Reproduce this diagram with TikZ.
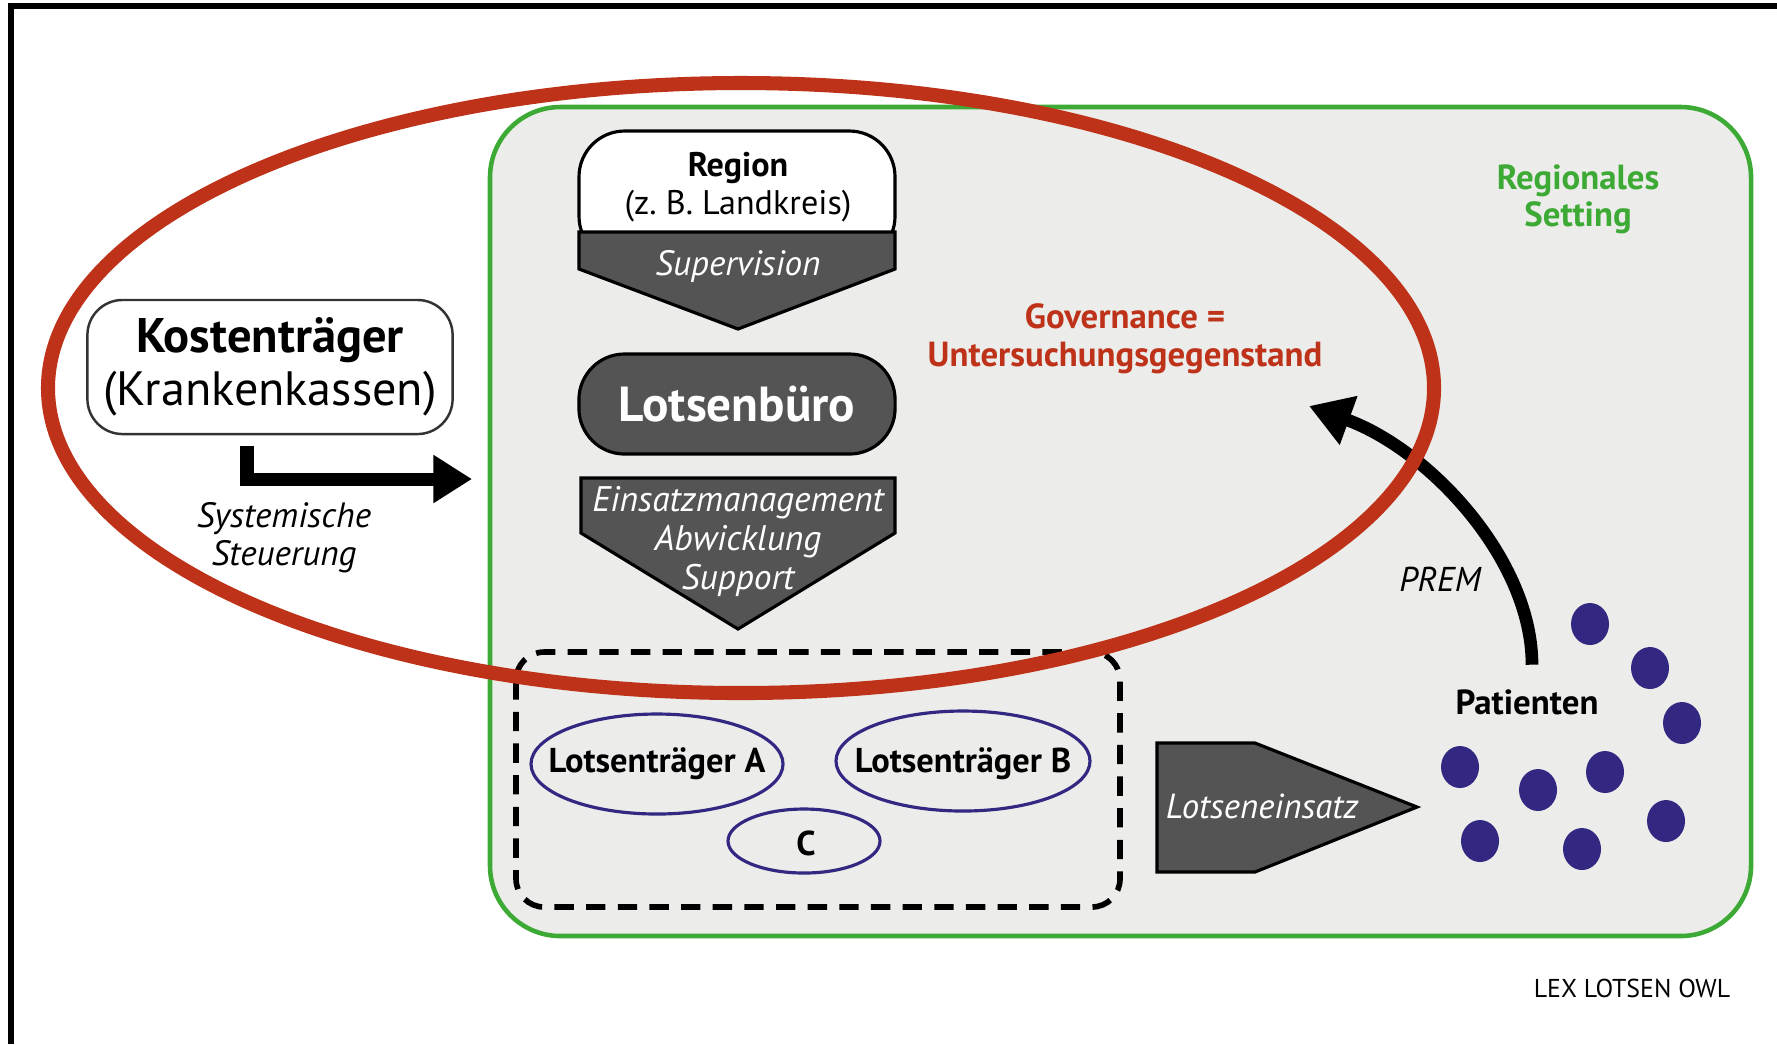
\documentclass[tikz,border=0pt]{standalone}
\usepackage{fontspec}
\setmainfont{PT Sans}
\usetikzlibrary{arrows.meta,calc}
\definecolor{govred}{RGB}{190,50,25}
\definecolor{setgreen}{RGB}{61,170,53}
\definecolor{darkfill}{RGB}{84,84,84}
\definecolor{settingbg}{RGB}{236,236,234}
\definecolor{patblue}{RGB}{50,40,130}
\begin{document}
\begin{tikzpicture}[x=0.01cm,y=-0.01cm,
    lbl/.style={inner sep=0pt,align=center,font=\fontsize{9.9}{11}\selectfont},
    darkpart/.style={fill=darkfill,draw=black,line width=0.9pt},
    ring/.style={draw=patblue,line width=0.9pt}]
  \useasboundingbox (0,0) rectangle (1777,1044);
  \draw[line width=1.5pt] (11,1044) -- (11,6) -- (1777,6);
  % regionales Setting
  \draw[setgreen,fill=settingbg,line width=1.3pt,rounded corners=20pt]
    (490,107) rectangle (1751,936);
  \node[lbl,text=setgreen,font=\bfseries\fontsize{9.9}{10.5}\selectfont] (setting)
    at (1578,199) {Regionales\\Setting};
  % Region mit Supervision
  \draw[fill=white,line width=0.9pt,rounded corners=13pt] (579,131) rectangle (895,262);
  \draw[darkpart] (579,232) -- (895,232) -- (895,269) -- (738,329) -- (579,269) -- cycle;
  \node[lbl,font=\fontsize{9.7}{11}\selectfont] (region) at (738,187)
    {\textbf{Region}\\(z.~B. Landkreis)};
  \node[lbl,text=white,font=\itshape\fontsize{10}{11}\selectfont] (superv) at (738,266) {Supervision};
  % Lotsenbuero
  \node[darkpart,rounded corners=13pt,minimum width=3.16cm,minimum height=1cm,
    text=white,font=\bfseries\fontsize{14}{16}\selectfont] (buero) at (737,404) {Lotsenbüro};
  \draw[darkpart] (581,478) -- (895,478) -- (895,533) -- (738,629) -- (581,533) -- cycle;
  \node[lbl,text=white,font=\itshape\fontsize{10.1}{11.1}\selectfont] (einsatz) at (738,541)
    {Einsatzmanagement\\Abwicklung\\Support};
  % Kostentraeger
  \node[draw=black!80,fill=white,rounded corners=10pt,line width=0.7pt,
    minimum width=3.65cm,minimum height=1.34cm,align=center,inner sep=0pt,
    font=\fontsize{13.7}{15.2}\selectfont] (kosten) at (270,367)
    {{\fontsize{13.8}{15}\selectfont\bfseries Kostenträger}\\(Krankenkassen)};
  \coordinate (steuer) at (472,479);
  \draw[line width=3.7pt,-{Triangle[length=11pt,width=13pt]}]
    ($(kosten.south)+(-23,11)$) |- (steuer);
  \node[lbl,font=\itshape\fontsize{10}{10.8}\selectfont] (steuerung) at (284,538)
    {Systemische\\Steuerung};
  % Lotsentraeger
  \draw[line width=1.6pt,dash pattern=on 5.5pt off 3.5pt,rounded corners=8pt]
    (516,652) rectangle (1120,907);
  \node[lbl,font=\bfseries\fontsize{9.8}{11}\selectfont] (ta) at (657,764) {Lotsenträger A};
  \node[lbl,font=\bfseries\fontsize{9.8}{11}\selectfont] (tb) at (963,764) {Lotsenträger B};
  \node[lbl,font=\bfseries\fontsize{9.8}{11}\selectfont] (tc) at (806,843) {C};
  \draw[ring] (ta.center) ellipse (126 and 50);
  \draw[ring] (963,761) ellipse (127 and 50);
  \draw[ring] (804,841) ellipse (76 and 32);
  % Lotseneinsatz
  \draw[darkpart] (1157,743) -- (1255,743) -- (1417,807) -- (1255,872) -- (1157,872) -- cycle;
  \node[lbl,text=white,font=\itshape\fontsize{9.9}{11}\selectfont] (lotseinsatz)
    at (1262,806) {Lotseneinsatz};
  % Patienten
  \foreach \px/\py in {1590/624,1650/668,1682/723,1460/767,1538/790,
                       1605/772,1666/821,1480/841,1582/849}
    \fill[patblue] (\px,\py) ellipse (19 and 21);
  \node[lbl,font=\bfseries\fontsize{9.9}{11}\selectfont] (pat) at (1527,702) {Patienten};
  \node[lbl,font=\itshape\fontsize{9.8}{11}\selectfont] (prem) at (1440,579) {PREM};
  \coordinate (govtip) at (1309,406);
  \draw[line width=3.6pt,-{Triangle[length=12pt,width=14pt]}]
    ($(pat.north)+(5,-24)$) .. controls (1532,560) and (1430,450) .. (govtip);
  % Governance
  \draw[govred,line width=4pt] (741,388) ellipse (693 and 305);
  \node[lbl,text=govred,font=\bfseries\fontsize{9.9}{10.8}\selectfont] (gov) at (1125,339)
    {Governance =\\Untersuchungsgegenstand};
  \node[lbl,font=\fontsize{7.35}{8}\selectfont] (lex) at (1632,988) {LEX LOTSEN OWL};
\end{tikzpicture}
\end{document}
